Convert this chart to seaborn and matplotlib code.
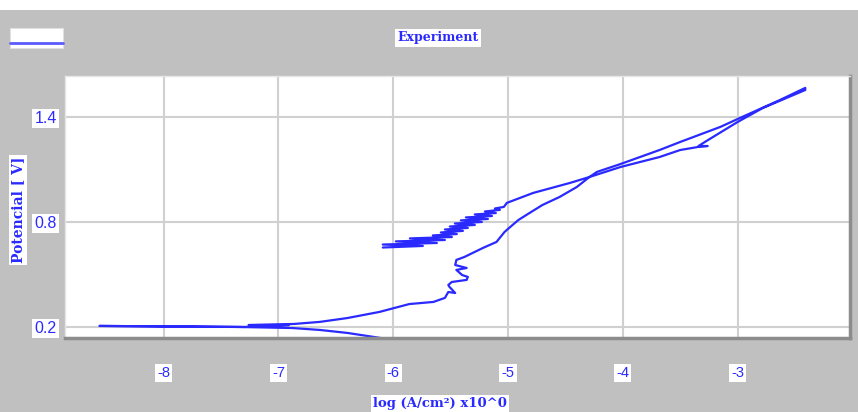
import seaborn as sns
import matplotlib.pyplot as plt
import pandas as pd
from matplotlib.patches import Rectangle
from matplotlib.lines import Line2D

sns.set_style('white')

# polarisation curve (log current density vs potential)
log_i_fwd = [-6.05, -6.40, -6.64, -6.88, -7.34, -8.56, -7.30, -6.91, -7.26, -6.87,
             -6.64, -6.40, -6.12, -5.86, -5.65, -5.55, -5.52, -5.46, -5.51, -5.52,
             -5.49, -5.36, -5.35, -5.40, -5.45, -5.36, -5.46, -5.45, -5.38, -5.22,
             -5.10, -5.03, -4.96, -4.91, -4.84, -4.70, -4.55, -4.40, -4.29, -4.225,
             -4.02, -3.68, -3.50, -3.15, -2.98, -2.63, -2.41]
E_fwd = [0.131, 0.166, 0.183, 0.194, 0.200, 0.206, 0.200, 0.211, 0.211, 0.217,
         0.229, 0.251, 0.286, 0.331, 0.343, 0.366, 0.400, 0.394, 0.429, 0.440,
         0.457, 0.469, 0.486, 0.497, 0.526, 0.537, 0.554, 0.583, 0.600, 0.651,
         0.686, 0.743, 0.783, 0.811, 0.840, 0.897, 0.943, 1.000, 1.057, 1.086,
         1.131, 1.211, 1.257, 1.343, 1.394, 1.497, 1.566]

# reverse sweep, with the noisy band near the end
log_i_rev = [-2.41, -2.78, -3.00, -3.27, -3.34, -3.26, -3.34, -3.50, -3.68, -4.02,
             -4.29, -4.46, -4.78, -5.01,
             -5.036, -5.114, -5.071, -5.201, -5.106, -5.289, -5.140, -5.367,
             -5.175, -5.411, -5.228, -5.463, -5.289, -5.507, -5.350, -5.550,
             -5.393, -5.585, -5.446, -5.655, -5.489, -5.855, -5.550, -5.977,
             -5.620, -6.091, -5.742, -6.091]
E_rev = [1.554, 1.451, 1.371, 1.263, 1.234, 1.234, 1.229, 1.211, 1.171, 1.114,
         1.057, 1.023, 0.966, 0.909,
         0.886, 0.877, 0.869, 0.860, 0.851, 0.843, 0.834, 0.826,
         0.817, 0.809, 0.800, 0.791, 0.783, 0.774, 0.766, 0.757,
         0.749, 0.740, 0.731, 0.723, 0.714, 0.706, 0.697, 0.689,
         0.680, 0.671, 0.663, 0.654]

x_ticks = [-8, -7, -6, -5, -4, -3]
y_ticks = [0.2, 0.8, 1.4]

df = pd.DataFrame({'log_i': log_i_fwd + log_i_rev, 'E': E_fwd + E_rev})

blue = '#2a2aff'
gray = '#c0c0c0'

fig = plt.figure(figsize=(8.58, 4.12), dpi=100, facecolor=gray)
# white strip on top
fig.add_artist(Rectangle((0, 1 - 10 / 412), 1, 10 / 412, transform=fig.transFigure,
                         facecolor='white', edgecolor='none', zorder=0))

ax = fig.add_axes([65 / 858, 1 - 338 / 412, 785 / 858, 262 / 412])
ax.set_facecolor('white')

sns.lineplot(data=df, x='log_i', y='E', sort=False, estimator=None,
             color=blue, linewidth=1.6, ax=ax)

ax.set_xlim(-8.86, -2.02)
ax.set_ylim(0.137, 1.634)
ax.set_xticks(x_ticks)
ax.set_yticks(y_ticks)
ax.set_xticklabels([str(v) for v in x_ticks])
ax.set_yticklabels([str(v) for v in y_ticks])
ax.grid(True, color='#d0d0d0', linewidth=1.5)
ax.tick_params(length=0, colors=blue)
ax.tick_params(axis='x', pad=20, labelsize=10.5)
ax.tick_params(axis='y', pad=6, labelsize=11.5)
for lab in ax.get_xticklabels() + ax.get_yticklabels():
    lab.set_fontfamily('Liberation Sans')
    lab.set_bbox(dict(facecolor='white', edgecolor='none', pad=1.5))

for s in ['left', 'top']:
    ax.spines[s].set_color('#e6e6e6')
    ax.spines[s].set_linewidth(1)
for s in ['bottom', 'right']:
    ax.spines[s].set_color('#8c8c8c')
    ax.spines[s].set_linewidth(2.5)

ax.set_xlabel('')
ax.set_ylabel('')

# title, axis titles as labelled boxes
fig.text(438 / 858, 1 - 38 / 412, 'Experiment', ha='center', va='center',
         color=blue, fontsize=9, fontweight='bold', family='DejaVu Serif',
         bbox=dict(facecolor='white', edgecolor='none', pad=2))
fig.text(18 / 858, 1 - 210 / 412, 'Potencial [ V]', ha='center', va='center',
         rotation=90, color=blue, fontsize=10, fontweight='bold',
         family='DejaVu Serif', bbox=dict(facecolor='white', edgecolor='none', pad=1.5))
fig.text(440 / 858, 1 - 404 / 412, 'log (A/cm²) x10^0', ha='center', va='center',
         color=blue, fontsize=9.5, fontweight='bold', family='DejaVu Serif',
         bbox=dict(facecolor='white', edgecolor='none', pad=1.5))

# legend swatch top left
fig.add_artist(Rectangle((10 / 858, 1 - 48 / 412), 53 / 858, 20 / 412,
                         transform=fig.transFigure, facecolor='white',
                         edgecolor='#e0e0e0', linewidth=0.8))
fig.add_artist(Line2D([10 / 858, 63 / 858], [1 - 43 / 412, 1 - 43 / 412],
                      transform=fig.transFigure, color='#5a5aff', linewidth=2))

fig.savefig('out.png', dpi=100, facecolor=gray)
